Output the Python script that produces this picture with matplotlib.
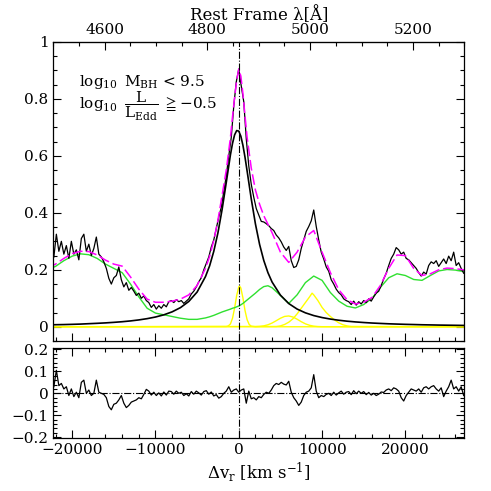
import numpy as np
import matplotlib.pyplot as plt
from matplotlib.ticker import MultipleLocator, FixedLocator, FuncFormatter

plt.rcParams["font.family"] = ["DejaVu Serif", "DejaVu Sans"]
plt.rcParams["mathtext.fontset"] = "dejavuserif"

C_KMS = 299792.458
LAM_HB = 4861.0

# stacked spectrum and fit residual, one value every 300 km/s from -22200
v_spec = np.arange(-22200, 27001, 300)
flux = [
    0.245, 0.325, 0.265, 0.300, 0.255, 0.285, 0.240, 0.300, 0.255, 0.270,
    0.235, 0.310, 0.325, 0.265, 0.290, 0.250, 0.275, 0.315, 0.255, 0.245,
    0.228, 0.205, 0.170, 0.150, 0.172, 0.180, 0.210, 0.165, 0.140, 0.155,
    0.128, 0.138, 0.125, 0.110, 0.118, 0.100, 0.108, 0.092, 0.085, 0.068,
    0.078, 0.062, 0.074, 0.065, 0.078, 0.070, 0.088, 0.092, 0.085, 0.095,
    0.088, 0.092, 0.082, 0.090, 0.098, 0.115, 0.125, 0.140, 0.158, 0.172,
    0.200, 0.222, 0.245, 0.280, 0.305, 0.345, 0.385, 0.420, 0.475, 0.530,
    0.600, 0.665, 0.775, 0.860, 0.905, 0.845, 0.790, 0.660, 0.565, 0.500,
    0.455, 0.415, 0.392, 0.370, 0.368, 0.362, 0.355, 0.345, 0.338, 0.322,
    0.312, 0.298, 0.280, 0.268, 0.282, 0.232, 0.208, 0.212, 0.235, 0.275,
    0.305, 0.335, 0.352, 0.372, 0.410, 0.352, 0.305, 0.262, 0.238, 0.210,
    0.195, 0.165, 0.150, 0.132, 0.120, 0.112, 0.098, 0.092, 0.088, 0.078,
    0.090, 0.076, 0.088, 0.080, 0.092, 0.085, 0.098, 0.090, 0.105, 0.118,
    0.125, 0.145, 0.168, 0.188, 0.215, 0.240, 0.255, 0.278, 0.270, 0.255,
    0.262, 0.240, 0.235, 0.225, 0.215, 0.205, 0.190, 0.178, 0.192, 0.185,
    0.215, 0.228, 0.222, 0.232, 0.212, 0.225, 0.238, 0.222, 0.248, 0.232,
    0.262, 0.215, 0.225, 0.205, 0.188,
]
resid = [
    0.030, 0.105, 0.035, 0.045, 0.020, 0.030, -0.010, 0.020, -0.015, 0.005,
    -0.020, 0.050, 0.060, 0.000, 0.015, -0.010, 0.000, 0.060, 0.005, 0.000,
    -0.005, -0.020, -0.060, -0.075, -0.050, -0.045, -0.030, -0.010, -0.045, -0.065,
    -0.055, -0.040, -0.035, -0.030, -0.020, -0.025, -0.005, 0.018, 0.010, -0.008,
    0.005, -0.010, 0.002, -0.012, 0.006, -0.008, 0.010, 0.008, -0.004, 0.010,
    0.000, 0.005, -0.010, -0.002, -0.012, 0.008, -0.004, 0.010, 0.002, -0.008,
    0.008, 0.012, -0.004, 0.006, -0.012, -0.006, -0.022, -0.015, 0.000, 0.010,
    0.030, 0.005, 0.015, 0.020, 0.005, 0.015, 0.020, -0.045, 0.010, -0.025,
    -0.020, -0.030, -0.015, -0.020, -0.005, 0.005, 0.000, 0.015, 0.035, 0.045,
    0.040, 0.050, 0.042, 0.038, 0.055, 0.005, -0.020, -0.035, -0.055, -0.040,
    -0.010, 0.005, 0.010, 0.025, 0.085, 0.010, -0.020, -0.010, -0.015, -0.005,
    0.000, -0.010, 0.005, -0.008, 0.002, 0.010, -0.004, 0.005, 0.008, -0.006,
    0.012, -0.002, 0.010, 0.000, 0.008, -0.006, 0.004, -0.008, 0.000, -0.010,
    -0.004, 0.006, 0.004, 0.015, 0.020, 0.012, 0.025, 0.020, 0.010, -0.020,
    -0.035, -0.010, 0.005, 0.020, 0.015, 0.010, 0.020, 0.005, 0.025, 0.030,
    0.020, 0.030, 0.035, 0.020, 0.010, 0.025, -0.015, 0.010, 0.030, 0.060,
    0.020, 0.030, 0.010, 0.030, -0.010,
]

# fit components sampled on a coarser velocity grid
v_fit = [-23000, -22000, -21000, -20000, -19000, -18000, -17000, -16000,
         -15000, -14000, -13000, -12000, -11000, -10000, -9000, -8000,
         -7000, -6000, -5000, -4000, -3500, -3000, -2500, -2000, -1500,
         -1000, -750, -500, -250, 0, 250, 500, 750, 1000, 1500, 2000, 2500,
         3000, 3500, 4000, 5000, 6000, 7000, 8000, 9000, 10000, 11000,
         12000, 13000, 14000, 15000, 16000, 17000, 18000, 19000, 20000,
         21000, 22000, 23000, 24000, 25000, 26000, 27000, 28000]
broad_hb = [0.0066, 0.0072, 0.0077, 0.0085, 0.0094, 0.0108, 0.0121, 0.0136,
            0.0155, 0.0177, 0.0205, 0.0240, 0.0285, 0.0342, 0.0419, 0.0524,
            0.0672, 0.0889, 0.122, 0.176, 0.214, 0.265, 0.330, 0.412, 0.507,
            0.604, 0.644, 0.674, 0.689, 0.687, 0.669, 0.637, 0.595, 0.547,
            0.449, 0.361, 0.289, 0.233, 0.190, 0.157, 0.111, 0.0815, 0.0622,
            0.0489, 0.0393, 0.0323, 0.0270, 0.0229, 0.0196, 0.0170, 0.0149,
            0.0131, 0.0117, 0.0104, 0.0094, 0.0085, 0.0078, 0.0070, 0.0065,
            0.0059, 0.0055, 0.0051, 0.0047, 0.0044]
feii = [0.200, 0.212, 0.232, 0.248, 0.256, 0.253, 0.240, 0.220, 0.205, 0.190,
        0.150, 0.105, 0.065, 0.048, 0.042, 0.036, 0.030, 0.026, 0.026, 0.031,
        0.035, 0.040, 0.046, 0.052, 0.057, 0.062, 0.065, 0.067, 0.070, 0.073,
        0.077, 0.082, 0.088, 0.094, 0.106, 0.118, 0.131, 0.141, 0.144, 0.137,
        0.110, 0.082, 0.112, 0.155, 0.178, 0.163, 0.120, 0.090, 0.072, 0.066,
        0.078, 0.100, 0.138, 0.172, 0.186, 0.180, 0.166, 0.163, 0.180, 0.196,
        0.201, 0.199, 0.194, 0.190]
total_fit = [0.205, 0.220, 0.240, 0.257, 0.265, 0.264, 0.252, 0.234, 0.220,
             0.213, 0.175, 0.132, 0.097, 0.086, 0.086, 0.090, 0.097, 0.112,
             0.145, 0.205, 0.247, 0.303, 0.375, 0.462, 0.550, 0.665, 0.738,
             0.805, 0.866, 0.905, 0.880, 0.818, 0.740, 0.665, 0.557, 0.480,
             0.430, 0.390, 0.360, 0.330, 0.262, 0.226, 0.262, 0.315, 0.338,
             0.262, 0.190, 0.130, 0.095, 0.080, 0.086, 0.103, 0.145, 0.205,
             0.252, 0.250, 0.205, 0.180, 0.186, 0.200, 0.206, 0.204, 0.200,
             0.196]

# narrow lines: Hb, [OIII]4959, [OIII]5007
v_hb_narrow = [-23000, -1500, -1250, -1000, -750, -500, -250, 0, 100, 250,
               500, 750, 1000, 1250, 1500, 2000, 28000]
hb_narrow = [0, 0.001, 0.003, 0.010, 0.030, 0.066, 0.110, 0.140, 0.143,
             0.136, 0.101, 0.057, 0.025, 0.008, 0.002, 0, 0]
v_o3_4959 = [-23000, 2000, 2500, 3000, 3500, 4000, 4500, 5000, 5500, 6000,
             6500, 7000, 7500, 8000, 8500, 9000, 9500, 10000, 28000]
o3_4959 = [0, 0.0004, 0.0012, 0.0032, 0.0069, 0.0131, 0.0213, 0.0299, 0.0363,
           0.0379, 0.0342, 0.0266, 0.0178, 0.0103, 0.0051, 0.0022, 0.0008,
           0.0003, 0]
v_o3_5007 = [-23000, 4500, 5000, 5500, 6000, 6500, 7000, 7500, 8000, 8500,
             8800, 9000, 9500, 10000, 10500, 11000, 11500, 12000, 12500, 13000,
             13500, 28000]
o3_5007 = [0, 0.001, 0.003, 0.008, 0.016, 0.028, 0.045, 0.065, 0.085, 0.105,
           0.118, 0.112, 0.092, 0.068, 0.050, 0.036, 0.024, 0.014, 0.007,
           0.003, 0.001, 0]

lam_ticks = [4600, 4800, 5000, 5200]
lam_minor = [4500, 4550, 4650, 4700, 4750, 4850, 4900, 4950, 5050, 5100,
             5150, 5250, 5300]


def vel_to_lam(v):
    return LAM_HB * (1 + np.asarray(v) / C_KMS)


def lam_to_vel(lam):
    return (np.asarray(lam) / LAM_HB - 1) * C_KMS


def plain_num(x, pos):
    return "{:g}".format(round(x, 6)).replace("-", "\u2212")


GREEN = "#2fe02f"
YELLOW = "#ffff00"
MAGENTA = "#ff00ff"

fig = plt.figure(figsize=(4.91, 4.91), dpi=100)
ax = fig.add_axes([0.1086, 0.3055, 0.837, 0.609])
axr = fig.add_axes([0.1086, 0.1073, 0.837, 0.1833])

# top panel
ax.plot(v_hb_narrow, hb_narrow, color=YELLOW, lw=1.0)
ax.plot(v_o3_4959, o3_4959, color=YELLOW, lw=1.0)
ax.plot(v_o3_5007, o3_5007, color=YELLOW, lw=1.0)
ax.plot(v_fit, feii, color=GREEN, lw=1.0)
ax.plot(v_fit, broad_hb, color="black", lw=1.2)
ax.plot(v_spec, flux, color="black", lw=0.9)
ax.plot(v_fit, total_fit, color=MAGENTA, lw=1.1, dashes=(7, 2.5))
ax.axvline(0, color="black", lw=0.8, linestyle="-.")

xmin, xmax = lam_to_vel(4500), lam_to_vel(5300)
ax.set_xlim(xmin, xmax)
ax.set_ylim(-0.05, 1.0)
ax.yaxis.set_major_locator(MultipleLocator(0.2))
ax.yaxis.set_minor_locator(MultipleLocator(0.05))
ax.yaxis.set_major_formatter(FuncFormatter(plain_num))
ax.xaxis.set_major_locator(MultipleLocator(10000))
ax.xaxis.set_minor_locator(MultipleLocator(2000))
ax.tick_params(which="both", direction="in", right=True, top=False,
               labelbottom=False, labelsize=11, width=0.8)
ax.tick_params(which="major", length=6)
ax.tick_params(which="minor", length=3)

sec = ax.secondary_xaxis("top", functions=(vel_to_lam, lam_to_vel))
sec.xaxis.set_major_locator(FixedLocator(lam_ticks))
sec.xaxis.set_minor_locator(FixedLocator(lam_minor))
sec.tick_params(which="both", direction="in", labelsize=11, width=0.8)
sec.tick_params(which="major", length=6)
sec.tick_params(which="minor", length=3)
sec.set_xlabel("Rest Frame \u03bb[\u00c5]", fontsize=12, labelpad=2)

ax.text(0.063, 0.865, r"$\log_{10}$ M$_{\rm BH}$ < 9.5",
        transform=ax.transAxes, va="center", fontsize=11)
ax.text(0.063, 0.785,
        r"$\log_{10}\ \dfrac{\mathrm{L}}{\mathrm{L}_{\mathrm{Edd}}}\ \geqq{-}0.5$",
        transform=ax.transAxes, va="center", fontsize=11)

# residual panel
axr.plot(v_spec, resid, color="black", lw=0.9)
axr.axhline(0, color="black", lw=0.8, linestyle="-.")
axr.axvline(0, color="black", lw=0.8, linestyle="-.")
axr.set_xlim(xmin, xmax)
axr.set_ylim(-0.205, 0.205)
axr.yaxis.set_major_locator(MultipleLocator(0.1))
axr.yaxis.set_minor_locator(MultipleLocator(0.02))
axr.yaxis.set_major_formatter(FuncFormatter(plain_num))
axr.xaxis.set_major_locator(MultipleLocator(10000))
axr.xaxis.set_minor_locator(MultipleLocator(2000))
axr.xaxis.set_major_formatter(FuncFormatter(plain_num))
axr.tick_params(which="both", direction="in", right=True, top=True,
                labelsize=11, width=0.8)
axr.tick_params(which="major", length=6)
axr.tick_params(which="minor", length=3)
axr.set_xlabel(r"$\Delta$v$_{\rm r}$ [km s$^{-1}$]", fontsize=12, labelpad=2)

for a in (ax, axr):
    for s in a.spines.values():
        s.set_linewidth(0.9)

fig.savefig("out.png", dpi=100)
